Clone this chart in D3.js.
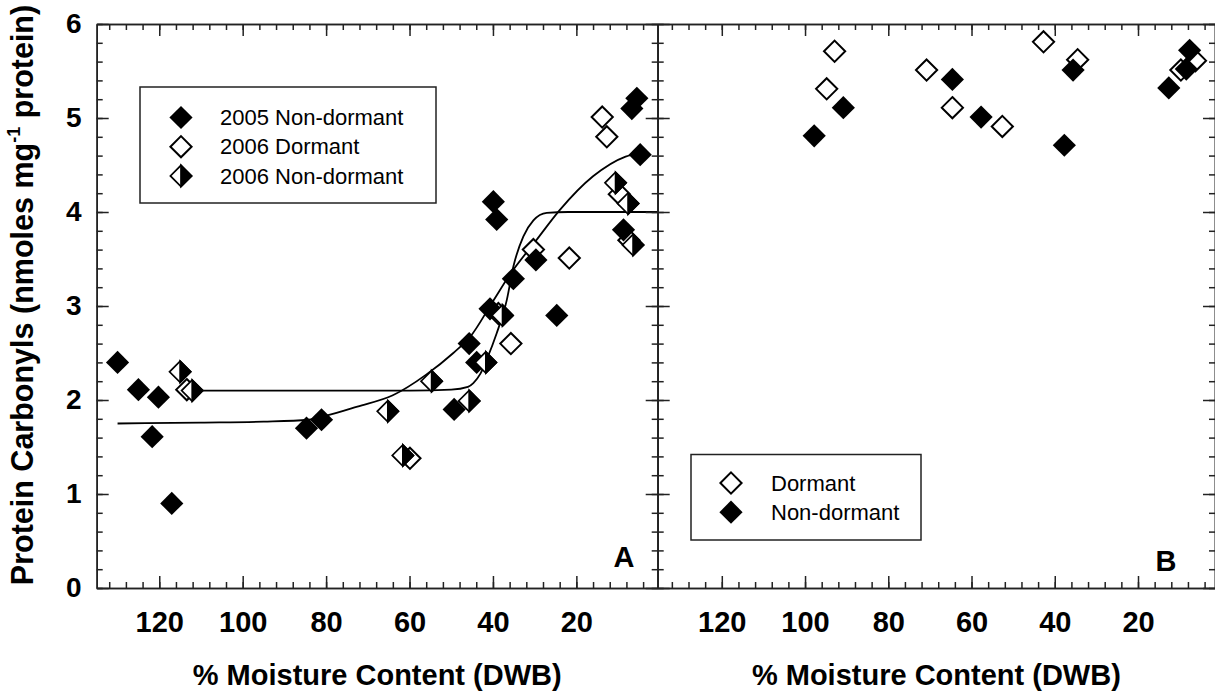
<!DOCTYPE html>
<html>
<head>
<meta charset="utf-8">
<script src="https://cdn.jsdelivr.net/npm/d3@7"></script>
<style>
  html, body { margin: 0; padding: 0; background: #fff; }
  svg { display: block; font-family: Arial, "Liberation Sans", Helvetica, sans-serif; }
</style>
</head>
<body>
<svg id="chart" width="1215" height="693"></svg>
<script>
// Panel A: protein carbonyls vs moisture content, three seed lots
// [moisture % DWB, nmol carbonyl per mg protein]
const nonDormant2005 = [
  [130.0, 2.40], [125.0, 2.11], [120.2, 2.03], [121.7, 1.61], [117.0, 0.90],
  [84.7, 1.70], [81.1, 1.79], [49.3, 1.90], [45.7, 2.60], [43.9, 2.40],
  [40.7, 2.97], [39.9, 4.11], [39.1, 3.92], [35.1, 3.29], [29.7, 3.49],
  [24.7, 2.90], [8.7, 3.81], [5.5, 5.21], [6.7, 5.10], [4.7, 4.61]
];
const dormant2006 = [
  [113.4, 2.11], [59.9, 1.38], [38.7, 2.92], [35.7, 2.60], [30.3, 3.60],
  [21.7, 3.51], [13.8, 5.01], [12.7, 4.80], [9.7, 4.19], [7.4, 3.70]
];
const nonDormant2006 = [
  [115.0, 2.30], [112.1, 2.10], [65.2, 1.88], [61.6, 1.41], [54.7, 2.20],
  [45.7, 1.99], [41.7, 2.40], [37.7, 2.90], [10.6, 4.31], [7.6, 4.09], [6.4, 3.65]
];

// Fitted curves traced through panel A
const fitGradual = [
  [130, 1.75], [110, 1.76], [95, 1.77], [84.2, 1.79], [80.2, 1.83], [72.5, 1.93],
  [64, 2.05], [56, 2.27], [49.5, 2.50], [45.5, 2.67], [40, 3.05], [36, 3.33],
  [29.6, 3.70], [24, 4.02], [16, 4.38], [8.2, 4.59], [4.7, 4.63]
];
const fitSteep = [
  [113, 2.10], [60, 2.10], [50, 2.11], [46, 2.14], [44.7, 2.18], [43, 2.28],
  [41.5, 2.43], [39.1, 2.71], [36.7, 3.06], [35.1, 3.42], [32.7, 3.74],
  [30.3, 3.91], [27.1, 3.99], [22, 4.00], [0.5, 4.00]
];

// Panel B: dormant vs non-dormant
const dormantB = [
  [92.9, 5.71], [94.8, 5.31], [70.8, 5.51], [64.6, 5.11], [52.6, 4.91],
  [42.7, 5.81], [34.5, 5.62], [9.7, 5.51], [6.2, 5.61]
];
const nonDormantB = [
  [97.8, 4.81], [90.8, 5.11], [64.6, 5.41], [57.7, 5.01], [37.7, 4.71],
  [35.6, 5.51], [12.6, 5.32], [8.4, 5.52], [7.6, 5.72]
];

// Tick values
const xMajorTicks = [120, 100, 80, 60, 40, 20];
const xMinorTicks = d3.range(4, 136, 4);
const yMajorTicks = [0, 1, 2, 3, 4, 5, 6];
const yMinorTicks = d3.range(0, 6.01, 0.2).map(v => +v.toFixed(1));

const legendA = ["2005 Non-dormant", "2006 Dormant", "2006 Non-dormant"];
const legendB = ["Dormant", "Non-dormant"];

const svg = d3.select("#chart");
const axisColor = "#222";

const plotTop = 24, plotBottom = 588;
const y = d3.scaleLinear().domain([0, 6]).range([plotBottom, plotTop]);
const xA = d3.scaleLinear().domain([135, 0.5]).range([96.7, 657.7]);
const xB = d3.scaleLinear().domain([135.4, 1.5]).range([657.7, 1215]);

const R = 11.2; // half-diagonal of a diamond marker

function diamondPath(r) {
  return `M0,${-r}L${r},0L0,${r}L${-r},0Z`;
}
function rightHalfPath(r) {
  return `M0,${-r}L${r},0L0,${r}Z`;
}

function drawMarker(g, kind, cx, cy) {
  const m = g.append("g").attr("transform", `translate(${cx},${cy})`);
  if (kind === "filled") {
    m.append("path").attr("d", diamondPath(R + 0.4)).attr("fill", "#000");
  } else if (kind === "open") {
    m.append("path").attr("d", diamondPath(R - 0.6)).attr("fill", "#fff")
      .attr("stroke", "#000").attr("stroke-width", 2);
  } else {
    m.append("path").attr("d", diamondPath(R - 0.6)).attr("fill", "#fff")
      .attr("stroke", "#000").attr("stroke-width", 1.7);
    m.append("path").attr("d", rightHalfPath(R - 0.6)).attr("fill", "#000")
      .attr("stroke", "#000").attr("stroke-width", 1.7);
  }
}

function styleAxis(sel) {
  sel.selectAll("path.domain").attr("stroke", axisColor).attr("stroke-width", 1.6);
  sel.selectAll(".tick line").attr("stroke", axisColor).attr("stroke-width", 1.5);
}

function frame(x, showLabels) {
  const [x0, x1] = x.range();
  const g = svg.append("g");
  const minorX = xMinorTicks.filter(v => v >= x.domain()[1] && v <= x.domain()[0]);

  // bottom
  const bMin = g.append("g").attr("transform", `translate(0,${plotBottom})`)
    .call(d3.axisBottom(x).tickValues(minorX).tickSize(-6).tickSizeOuter(0).tickFormat(""));
  styleAxis(bMin);
  const bMaj = g.append("g").attr("transform", `translate(0,${plotBottom})`)
    .call(d3.axisBottom(x).tickValues(xMajorTicks).tickSize(-12).tickSizeOuter(0).tickPadding(22));
  styleAxis(bMaj);
  bMaj.selectAll(".tick text").attr("font-size", 29).attr("font-weight", "bold")
    .attr("fill", "#000").attr("dy", "0.75em").attr("y", 22);

  // top
  const tMin = g.append("g").attr("transform", `translate(0,${plotTop})`)
    .call(d3.axisTop(x).tickValues(minorX).tickSize(-6).tickSizeOuter(0).tickFormat(""));
  styleAxis(tMin);
  const tMaj = g.append("g").attr("transform", `translate(0,${plotTop})`)
    .call(d3.axisTop(x).tickValues(xMajorTicks).tickSize(-12).tickSizeOuter(0).tickFormat(""));
  styleAxis(tMaj);

  // left
  const lMin = g.append("g").attr("transform", `translate(${x0},0)`)
    .call(d3.axisLeft(y).tickValues(yMinorTicks).tickSize(-6).tickSizeOuter(0).tickFormat(""));
  styleAxis(lMin);
  const lMaj = g.append("g").attr("transform", `translate(${x0},0)`)
    .call(d3.axisLeft(y).tickValues(yMajorTicks).tickSize(-12).tickSizeOuter(0).tickPadding(15)
      .tickFormat(showLabels ? d3.format("d") : ""));
  styleAxis(lMaj);
  lMaj.selectAll(".tick text").attr("font-size", 28).attr("font-weight", "bold")
    .attr("fill", "#000").attr("x", -15);

  // right
  const rMin = g.append("g").attr("transform", `translate(${x1},0)`)
    .call(d3.axisRight(y).tickValues(yMinorTicks).tickSize(-6).tickSizeOuter(0).tickFormat(""));
  styleAxis(rMin);
  const rMaj = g.append("g").attr("transform", `translate(${x1},0)`)
    .call(d3.axisRight(y).tickValues(yMajorTicks).tickSize(-12).tickSizeOuter(0).tickFormat(""));
  styleAxis(rMaj);

  // x-axis title
  svg.append("text")
    .attr("x", (x0 + x1) / 2).attr("y", 685)
    .attr("text-anchor", "middle")
    .attr("font-size", 29).attr("font-weight", "bold")
    .text("% Moisture Content (DWB)");
}

// ---------- Panel A ----------
const gA = svg.append("g");
const lineA = d3.line().x(d => xA(d[0])).y(d => y(d[1])).curve(d3.curveMonotoneX);
[fitGradual, fitSteep].forEach(c => {
  const pts = c.slice().sort((a, b) => b[0] - a[0]);
  gA.append("path").attr("d", lineA(pts)).attr("fill", "none")
    .attr("stroke", "#000").attr("stroke-width", 1.8);
});
dormant2006.forEach(d => drawMarker(gA, "open", xA(d[0]), y(d[1])));
nonDormant2005.forEach(d => drawMarker(gA, "filled", xA(d[0]), y(d[1])));
nonDormant2006.forEach(d => drawMarker(gA, "half", xA(d[0]), y(d[1])));

// ---------- Panel B ----------
const gB = svg.append("g");
dormantB.forEach(d => drawMarker(gB, "open", xB(d[0]), y(d[1])));
nonDormantB.forEach(d => drawMarker(gB, "filled", xB(d[0]), y(d[1])));

frame(xA, true);
frame(xB, false);

// Y-axis title
const yTitle = svg.append("text")
  .attr("transform", "translate(33,295) rotate(-90)")
  .attr("text-anchor", "middle")
  .attr("font-size", 30.5).attr("font-weight", "bold");
yTitle.append("tspan").text("Protein Carbonyls (nmoles mg");
yTitle.append("tspan").attr("font-size", 18).attr("dy", -13).text("-1");
yTitle.append("tspan").attr("dy", 13).text(" protein)");

// Panel letters
svg.append("text").attr("x", 624).attr("y", 567).attr("text-anchor", "middle")
  .attr("font-size", 29).attr("font-weight", "bold").text("A");
svg.append("text").attr("x", 1166).attr("y", 571).attr("text-anchor", "middle")
  .attr("font-size", 29).attr("font-weight", "bold").text("B");

// Legend A
const legA = svg.append("g");
legA.append("rect").attr("x", 140).attr("y", 87).attr("width", 296).attr("height", 116)
  .attr("fill", "#fff").attr("stroke", axisColor).attr("stroke-width", 1.5);
const kindsA = ["filled", "open", "half"];
legendA.forEach((label, i) => {
  const cy = 117.5 + i * 29.2;
  drawMarker(legA, kindsA[i], 181, cy);
  legA.append("text").attr("x", 220).attr("y", cy).attr("dy", "0.35em")
    .attr("font-size", 22).text(label);
});

// Legend B
const legB = svg.append("g");
legB.append("rect").attr("x", 691).attr("y", 454.5).attr("width", 230).attr("height", 85.5)
  .attr("fill", "#fff").attr("stroke", axisColor).attr("stroke-width", 1.5);
const kindsB = ["open", "filled"];
legendB.forEach((label, i) => {
  const cy = 483 + i * 29.2;
  drawMarker(legB, kindsB[i], 731, cy);
  legB.append("text").attr("x", 771).attr("y", cy).attr("dy", "0.35em")
    .attr("font-size", 22).text(label);
});
</script>
</body>
</html>
